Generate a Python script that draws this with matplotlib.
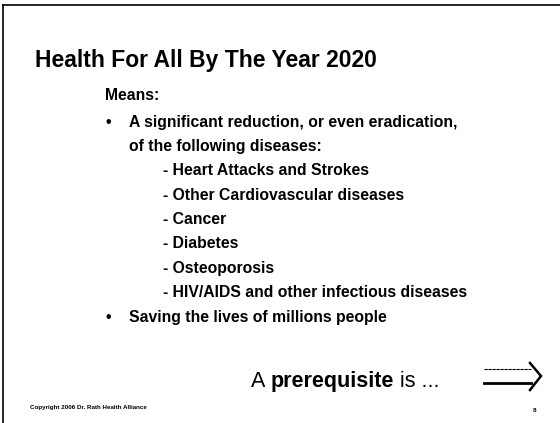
import matplotlib
matplotlib.use("Agg")
import matplotlib.pyplot as plt

title = "Health For All By The Year 2020"
means_label = "Means:"
bullet1_lines = ["A significant reduction, or even eradication,", "of the following diseases:"]
diseases = ["- Heart Attacks and Strokes", "- Other Cardiovascular diseases", "- Cancer",
            "- Diabetes", "- Osteoporosis", "- HIV/AIDS and other infectious diseases"]
bullet2 = "Saving the lives of millions people"
footer_plain = "A "
footer_bold = "prerequisite"
footer_tail = " is ..."
copyright_text = "Copyright 2006 Dr. Rath Health Alliance"
page_no = "8"

W, H = 560, 423
fig = plt.figure(figsize=(W / 100, H / 100), dpi=100)
ax = fig.add_axes([0, 0, 1, 1])
ax.set_xlim(0, W)
ax.set_ylim(H, 0)
ax.axis("off")

FONT = "Liberation Sans"
BODY = 11.3

# border lines
ax.plot([3, W], [5, 5], color="black", lw=1.2)
ax.plot([3, 3], [5, H], color="black", lw=1.2)

ax.text(35, 60, title, fontsize=16.5, fontweight="bold", family=FONT, va="center", ha="left")
ax.text(105, 95, means_label, fontsize=BODY, fontweight="bold", family=FONT, va="center", ha="left")

y0 = 122
step = 24.4
ax.text(106, y0, "•", fontsize=BODY, fontweight="bold", family=FONT, va="center", ha="left")
for i, line in enumerate(bullet1_lines):
    ax.text(129, y0 + i * step, line, fontsize=BODY, fontweight="bold", family=FONT, va="center", ha="left")
for i, d in enumerate(diseases):
    ax.text(163, y0 + (i + 2) * step, d, fontsize=BODY, fontweight="bold", family=FONT, va="center", ha="left")
yb2 = y0 + 8 * step
ax.text(106, yb2, "•", fontsize=BODY, fontweight="bold", family=FONT, va="center", ha="left")
ax.text(129, yb2, bullet2, fontsize=BODY, fontweight="bold", family=FONT, va="center", ha="left")

# footer phrase with bold middle word (laid out right-to-left from its end)
FS = 15.5
YB = 387
t3 = ax.text(439, YB, footer_tail, fontsize=FS, family=FONT, va="baseline", ha="right")
fig.canvas.draw()
r = fig.canvas.get_renderer()
inv = ax.transData.inverted()
bb = t3.get_window_extent(r)
x1 = inv.transform((bb.x0, bb.y0))[0]
t2 = ax.text(x1, YB, footer_bold, fontsize=FS, fontweight="bold", family=FONT, va="baseline", ha="right")
bb2 = t2.get_window_extent(r)
x2 = inv.transform((bb2.x0, bb2.y0))[0]
ax.text(x2, YB, footer_plain, fontsize=FS, family=FONT, va="baseline", ha="right")

# arrow
ax.plot([484, 531], [369.5, 369.5], color="black", lw=0.8, ls=(0, (3, 0.6)))
ax.plot([484, 531], [383, 383], color="black", lw=2.0)
ax.plot([530, 541, 530], [363, 376, 390], color="black", lw=1.8, solid_joinstyle="miter")

ax.text(30, 408, copyright_text, fontsize=4.5, fontweight="bold", family=FONT, va="center", ha="left")
ax.text(533, 411, page_no, fontsize=4.5, fontweight="bold", family=FONT, va="center", ha="left")

fig.savefig("out.png", dpi=100)
